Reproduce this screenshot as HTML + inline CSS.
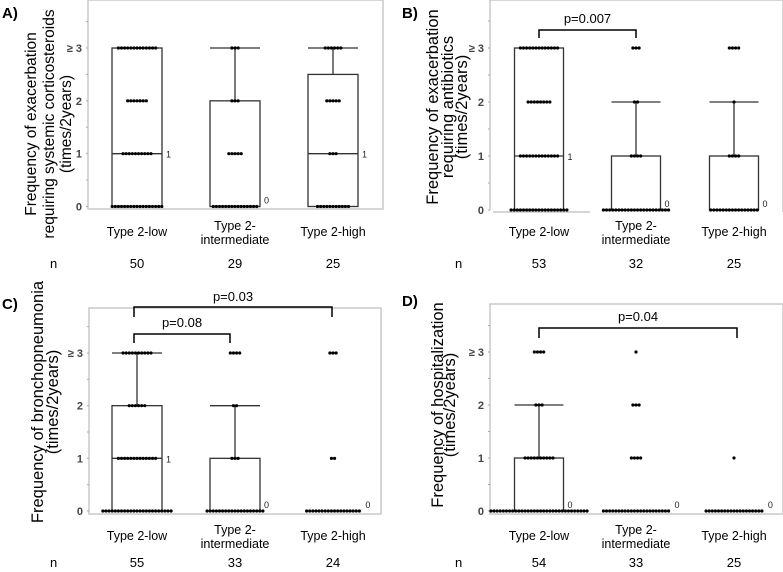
<!DOCTYPE html>
<html><head><meta charset="utf-8">
<style>
body{margin:0;background:#fff}
svg{display:block;font-family:"Liberation Sans",sans-serif}
</style></head>
<body>
<svg id="c" width="783" height="572" viewBox="0 0 783 572"></svg>
<script>
const categories=["Type 2-low","Type 2-intermediate","Type 2-high"];
const yTickLabels=["0","1","2","≥ 3"];
const nA=[50,29,25], nB=[53,32,25], nC=[55,33,24], nD=[54,33,25];
// dot counts per value (0,1,2,3) for each group
const dotsA=[[17,10,7,13],[15,5,3,3],[11,3,5,6]];
const dotsB=[[19,13,8,13],[22,4,2,3],[16,4,1,4]];
const dotsC=[[23,13,6,10],[19,3,2,4],[18,2,0,3]];
const dotsD=[[32,10,3,4],[22,4,3,1],[19,1,0,0]];
// box stats: [q1, median, q3, whiskerTop]
const boxA=[[0,1,3,3],[0,0,2,3],[0,1,2.5,3]];
const boxB=[[0,1,3,3],[0,0,1,2],[0,0,1,2]];
const boxC=[[0,1,2,3],[0,0,1,2],[0,0,0,0]];
const boxD=[[0,0,1,2],[0,0,0,0],[0,0,0,0]];
const NS="http://www.w3.org/2000/svg";
const svg=document.getElementById('c');
function mk(tag,attrs,parent,text){const e=document.createElementNS(NS,tag);for(const k in attrs)e.setAttribute(k,attrs[k]);if(text!==undefined)e.textContent=text;(parent||svg).appendChild(e);return e;}
const panels=[
 {id:'a',letter:'A)',lx:2,ly:18,frame:[88,0,383,209],y0:206.5,y3:48,cx:[137,235,333],bw:50,n:nA,dots:dotsA,box:boxA,lblY:236,nY:268,nx:50,
  title:["Frequency of exacerbation","requiring systemic corticosteroids","(times/2years)"],tx:[30,48,65],tcy:124,fs:15.5,brackets:[]},
 {id:'b',letter:'B)',lx:402,ly:18,frame:[490,0,783,212],noBottom:true,y0:210,y3:48,cx:[539,636,734],bw:49,n:nB,dots:dotsB,box:boxB,lblY:236,nY:268,nx:455,
  title:["Frequency of exacerbation","requiring antibiotics","(times/2years)"],tx:[432,447,461],tcy:107,fs:16.5,
  brackets:[{x1:539,x2:636,y:30,d:8,t:"p=0.007",ty:24}]},
 {id:'c',letter:'C)',lx:2,ly:309,frame:[89,308,381,514],y0:511,y3:353,cx:[137,235,333],bw:50,n:nC,dots:dotsC,box:boxC,lblY:540,nY:567,nx:50,
  title:["Frequency of bronchopneumonia","(times/2years)"],tx:[37,52],tcy:402,fs:16.5,
  brackets:[{x1:134,x2:332,y:307,d:10,t:"p=0.03",ty:302},{x1:134,x2:230,y:334,d:9,t:"p=0.08",ty:328}]},
 {id:'d',letter:'D)',lx:402,ly:306,frame:[490,304,783,514],y0:511,y3:352,cx:[539,636,734],bw:49,n:nD,dots:dotsD,box:boxD,lblY:540,nY:567,nx:455,
  title:["Frequency of hospitalization","(times/2years)"],tx:[437,449],tcy:405,fs:16.5,
  brackets:[{x1:539,x2:737,y:328,d:10,t:"p=0.04",ty:322}]}
];
panels.forEach(p=>{
 const g=mk('g',{});
 
 
 const yS=v=>p.y0-(p.y0-p.y3)*v/3;
 const f=p.frame;
 if(p.noBottom){
  const fr=mk('path',{d:`M${f[0]},${f[3]-2} V${f[1]} H${f[2]} V${f[3]}`,fill:'none',stroke:'#c8c8c8','stroke-width':1.5},g);
  
  mk('line',{x1:f[0]+3,x2:f[0]+100,y1:f[3],y2:f[3],stroke:'#c8c8c8','stroke-width':1.5},g);
 } else {
  const fr=mk('rect',{x:f[0],y:f[1],width:f[2]-f[0],height:f[3]-f[1],fill:'none',stroke:'#c8c8c8','stroke-width':1.5},g);
  
 }
 const lt=mk('text',{x:p.lx,y:p.ly,'font-size':15,'font-weight':'bold'},g,p.letter);
 
 for(let i=0;i<=7;i++){const y=yS(i/2);mk('line',{x1:f[0]-2,x2:f[0],y1:y,y2:y,stroke:'#aaa'},g);}
 yTickLabels.forEach((t,i)=>{const e=mk('text',{x:f[0]-6,y:yS(i)+4,'font-size':11,'font-weight':'bold',fill:'#444','text-anchor':'end'},g,t);
  });
 const tt=mk('text',{'font-size':p.fs,fill:'#000','text-anchor':'middle'},g);
 
 p.title.forEach((l,i)=>{mk('tspan',{x:-p.tcy,y:p.tx[i]+6},tt,l);});
 tt.setAttribute('transform','rotate(-90)');
 categories.forEach((cat,gi)=>{
  const cx=p.cx[gi],bw=p.bw,b=p.box[gi];
  const gg=mk('g',{},g);
  
  if(b[2]>b[0]){
   const r=mk('rect',{x:cx-bw/2,y:yS(b[2]),width:bw,height:yS(b[0])-yS(b[2]),fill:'none',stroke:'#333','stroke-width':1.3},gg);
   
   mk('line',{x1:cx-bw/2,x2:cx+bw/2,y1:yS(b[1]),y2:yS(b[1]),stroke:'#333','stroke-width':1.3},gg);
  }
  if(b[3]>b[2]){
   mk('line',{x1:cx,x2:cx,y1:yS(b[2]),y2:yS(b[3]),stroke:'#333','stroke-width':1.3},gg);
   mk('line',{x1:cx-bw/2,x2:cx+bw/2,y1:yS(b[3]),y2:yS(b[3]),stroke:'#333','stroke-width':1.3},gg);
  }
  const dc=p.dots[gi];
  let maxRight=cx;
  dc.forEach((cnt,v)=>{for(let k=0;k<cnt;k++){const x=cx+(k-(cnt-1)/2)*3.1;maxRight=Math.max(maxRight,x);
   const d=mk('circle',{cx:x,cy:yS(v),r:1.6,fill:'#000'},gg);
   }});
  const med=b[1];
  const rx=b[2]>b[0]?cx+bw/2+4:Math.max(cx+bw/2,maxRight)+6;
  const ml=mk('text',{x:rx,y:med===0?yS(0)-3:yS(med)+4,'font-size':9,fill:'#222'},gg,String(med));
  
  const parts=cat==="Type 2-intermediate"?["Type 2-","intermediate"]:[cat];
  const cl=mk('text',{'font-size':12.5,'text-anchor':'middle',fill:'#000'},g);
  
  parts.forEach((s,i)=>mk('tspan',{x:cx,y:p.lblY+(parts.length>1?(i*14-6):0)},cl,s));
  const nl=mk('text',{x:cx,y:p.nY,'font-size':13,'text-anchor':'middle'},g,String(p.n[gi]));
  
 });
 const nn=mk('text',{x:p.nx,y:p.nY,'font-size':13},g,'n');
 
 p.brackets.forEach(br=>{
  const pa=mk('path',{d:`M${br.x1},${br.y+br.d} V${br.y} H${br.x2} V${br.y+br.d}`,fill:'none',stroke:'#000','stroke-width':1.5},g);
  
  const t=mk('text',{x:(br.x1+br.x2)/2,y:br.ty-1,'font-size':13,'text-anchor':'middle'},g,br.t);
  
 });
});
</script>
</body></html>
